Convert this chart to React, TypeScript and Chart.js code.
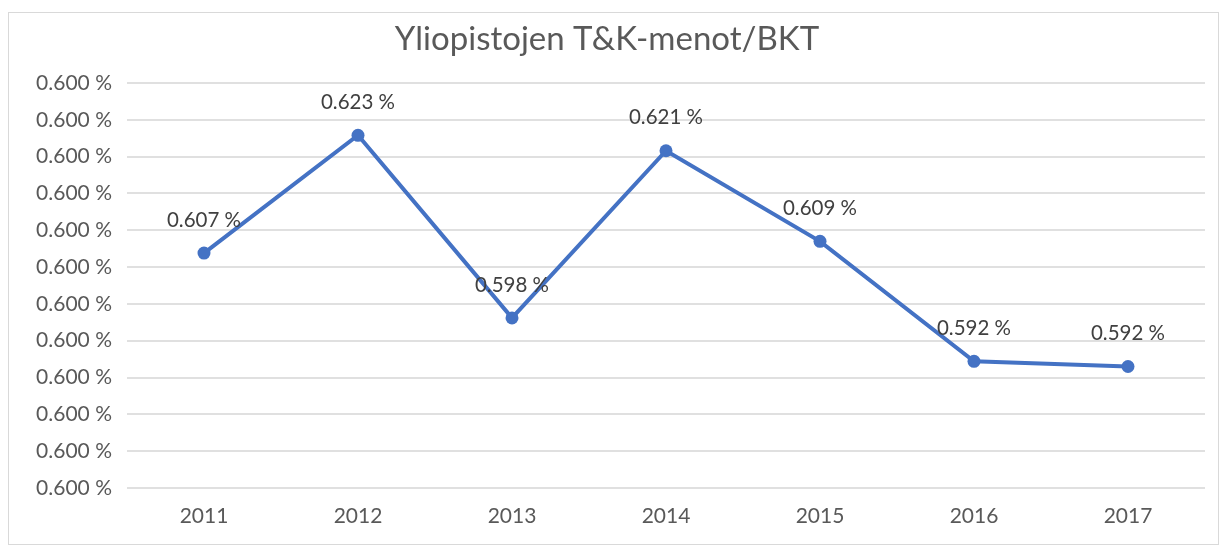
import React, { useEffect, useRef } from "react";
import { Chart, registerables } from "chart.js";

Chart.register(...registerables);

const TITLE = "Yliopistojen T&K-menot/BKT";
const years = ["2011", "2012", "2013", "2014", "2015", "2016", "2017"];
const values = [0.6069, 0.6229, 0.5981, 0.6208, 0.6085, 0.5922, 0.5915];
const dataLabels = ["0.607 %", "0.623 %", "0.598 %", "0.621 %", "0.609 %", "0.592 %", "0.592 %"];
const yMin = 0.575;
const yMax = 0.63;
const yStep = 0.005;
const yTickLabel = "0.600 %";

const FONT = "Lato, 'Open Sans', sans-serif";

const labelPlugin = {
  id: "pointLabels",
  afterDatasetsDraw(chart: any) {
    const ctx = chart.ctx;
    const meta = chart.getDatasetMeta(0);
    ctx.save();
    ctx.font = `20.5px ${FONT}`;
    ctx.fillStyle = "#404040";
    ctx.textAlign = "center";
    ctx.textBaseline = "middle";
    meta.data.forEach((pt: any, i: number) => {
      ctx.fillText(dataLabels[i], pt.x, pt.y - 33);
    });
    ctx.restore();
  },
};

export default function App() {
  const ref = useRef<HTMLCanvasElement | null>(null);
  useEffect(() => {
    if (!ref.current) return;
    const chart = new Chart(ref.current, {
      type: "line",
      data: {
        labels: years,
        datasets: [
          {
            data: values,
            borderColor: "#4472C4",
            backgroundColor: "#4472C4",
            borderWidth: 4,
            pointRadius: 6.5,
            pointBackgroundColor: "#4472C4",
            pointBorderColor: "#4472C4",
            pointBorderWidth: 0,
            tension: 0,
          },
        ],
      },
      options: {
        animation: false,
        responsive: true,
        maintainAspectRatio: false,
        layout: { padding: { left: 0, right: 13, top: 7, bottom: 15.4 } },
        plugins: {
          legend: { display: false },
          tooltip: { enabled: false },
          title: {
            display: true,
            text: TITLE,
            color: "#595959",
            font: { family: FONT, size: 33, weight: "normal" },
            padding: { top: 0, bottom: 23.4 },
          },
        },
        scales: {
          x: {
            offset: true,
            grid: { display: false, drawTicks: false },
            border: { display: false },
            ticks: { color: "#595959", font: { family: FONT, size: 21 }, padding: 15.4 },
            afterFit(scale: any) {
              scale.height = 40.6;
            },
          },
          y: {
            min: yMin,
            max: yMax,
            grid: { color: "#e0e0e0", lineWidth: 2, drawTicks: false },
            border: { display: false },
            ticks: {
              stepSize: yStep,
              color: "#595959",
              font: { family: FONT, size: 21 },
              padding: 15,
              callback: () => yTickLabel,
            },
            afterFit(scale: any) {
              scale.width = 118;
            },
          },
        },
      },
      plugins: [labelPlugin],
    });
    return () => chart.destroy();
  }, []);

  return (
    <div style={{ paddingTop: 4 }}>
      <div
        style={{
          width: 1211,
          height: 533,
          border: "1px solid #d9d9d9",
          boxSizing: "border-box",
          position: "relative",
          background: "#fff",
        }}
      >
        <canvas ref={ref} />
      </div>
    </div>
  );
}
